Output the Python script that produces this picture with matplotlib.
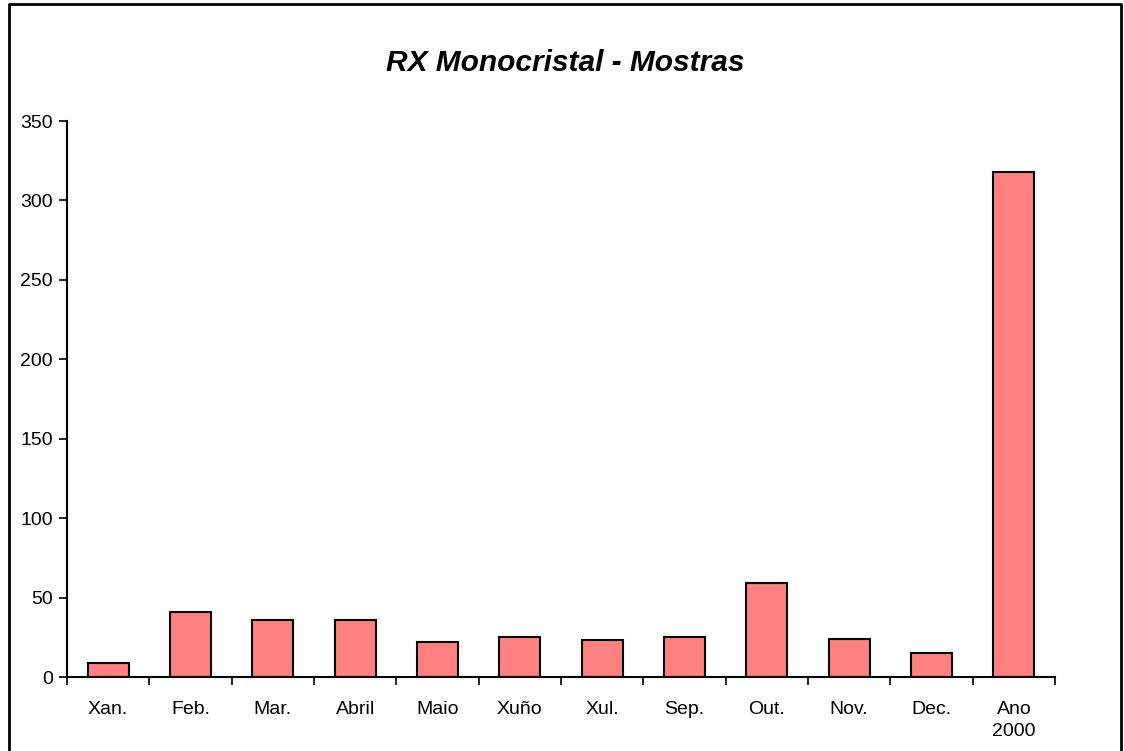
import matplotlib.pyplot as plt
from matplotlib.lines import Line2D
import numpy as np

plt.rcParams['font.family'] = ['Liberation Sans', 'DejaVu Sans']

# monthly sample counts
months = ['Xan.', 'Feb.', 'Mar.', 'Abril', 'Maio', 'Xuño', 'Xul.', 'Sep.',
          'Out.', 'Nov.', 'Dec.', 'Ano\n2000']
samples = [9, 41, 36, 36, 22, 25, 23, 25, 59, 24, 15, 318]
yticks = [0, 50, 100, 150, 200, 250, 300, 350]

W, H = 1124, 751
fig = plt.figure(figsize=(W / 100, H / 100), dpi=100)
ax = fig.add_axes([67 / W, 1 - 677 / H, (1055 - 67) / W, (677 - 121) / H])

x = np.arange(len(months))
ax.bar(x, samples, width=0.5, color='#FF8080', edgecolor='black', linewidth=1.5)

ax.set_xlim(-0.5, len(months) - 0.5)
ax.set_ylim(0, 350)
ax.set_yticks(yticks)
ax.tick_params(axis='y', labelsize=14, length=6, width=1.2, direction='out', pad=4)

# category boundaries as ticks, labels centered between them
ax.set_xticks(np.arange(-0.5, len(months)), minor=False)
ax.set_xticklabels([])
ax.set_xticks(x, minor=True)
ax.set_xticklabels(months, minor=True, fontsize=14, linespacing=1.4)
ax.tick_params(axis='x', which='major', length=6, width=1.2, direction='out')
ax.tick_params(axis='x', which='minor', length=0, pad=17)

for s in ['top', 'right']:
    ax.spines[s].set_visible(False)
for s in ['left', 'bottom']:
    ax.spines[s].set_linewidth(1.5)

fig.text(565 / W, 1 - 63 / H, 'RX Monocristal - Mostras', ha='center', va='center',
         fontsize=21.5, fontweight='bold', fontstyle='italic')

# outer frame
fx0, fx1, fy1 = 8.5 / W, 1121 / W, 1 - 4 / H
fig.add_artist(Line2D([fx0, fx0, fx1, fx1], [0, fy1, fy1, 0], color='black',
                      linewidth=2, transform=fig.transFigure))

fig.savefig('out.png', dpi=100)
